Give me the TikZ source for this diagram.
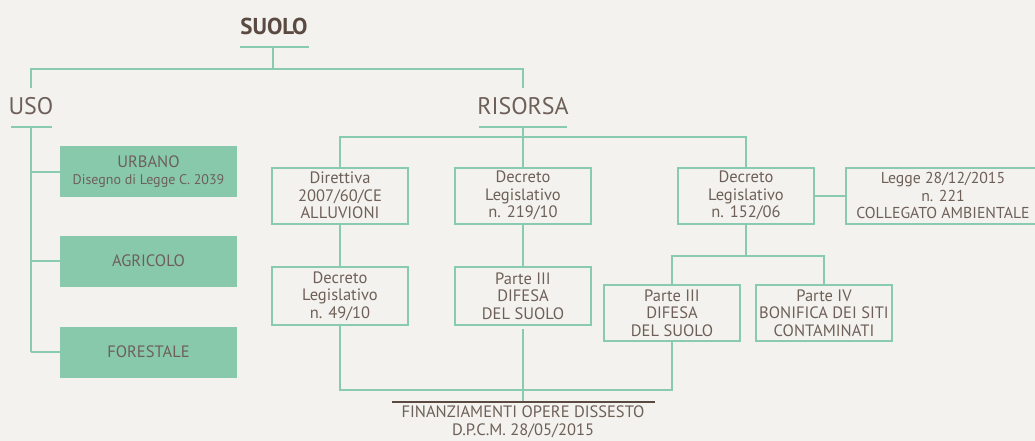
\documentclass[tikz,border=0pt]{standalone}
\usepackage{fontspec}
\setmainfont{PT Sans}
\definecolor{bg}{HTML}{F3F2EE}
\definecolor{ln}{HTML}{88CBB0}
\definecolor{gf}{HTML}{88C9AC}
\definecolor{tx}{HTML}{6E6058}
\definecolor{dk}{HTML}{5A4A42}
\tikzset{
  conn/.style={draw=ln, line width=2pt},
  tbox/.style={draw=ln, line width=2pt, fill=bg, minimum width=136pt, minimum height=56pt,
    align=center, text=tx, inner sep=0pt, font=\fontsize{16.5}{17.6}\selectfont},
  gbox/.style={fill=gf, draw=none, minimum width=177pt, minimum height=51pt,
    align=center, text=tx, inner sep=0pt, font=\fontsize{16.5}{17.6}\selectfont},
  head/.style={text=tx, inner sep=0pt, font=\fontsize{24}{28}\selectfont},
  foot/.style={text=tx, inner sep=0pt, align=center, font=\fontsize{16.5}{17.6}\selectfont}
}
\begin{document}
\begin{tikzpicture}[x=1pt,y=-1pt]
\useasboundingbox (0,0) rectangle (1035,441);
\fill[bg] (0,0) rectangle (1035,441);
\clip (0,0) rectangle (1035,441);

% headings
\node[head, text=dk, font=\fontsize{23}{28}\selectfont\bfseries, anchor=base] (suolo) at (274,35) {SUOLO};
\node[head, anchor=base] (uso) at (31,115) {USO};
\node[head, anchor=base] (risorsa) at (523,115) {RISORSA};

\coordinate (suL) at (240,47); \coordinate (suR) at (309,47); \coordinate (suM) at (273,47);
\coordinate (usL) at (11,127); \coordinate (usR) at (52,127); \coordinate (usM) at (31,127);
\coordinate (riL) at (479,127); \coordinate (riR) at (567,127); \coordinate (riM) at (523,127);

% USO boxes
\node[gbox] (urbano) at (148.5,171.5) {URBANO\\[-0.5pt]{\fontsize{14}{15}\selectfont Disegno di Legge C. 2039}};
\node[gbox] (agricolo) at (148.5,261) {AGRICOLO};
\node[gbox] (forestale) at (148.5,352) {FORESTALE};

% RISORSA boxes
\node[tbox] (b1) at (340,195.5) {Direttiva\\2007/60/CE\\ALLUVIONI};
\node[tbox] (b2) at (523,195.5) {Decreto\\Legislativo\\n. 219/10};
\node[tbox] (b3) at (746,195.5) {Decreto\\Legislativo\\n. 152/06};
\node[tbox, minimum width=194pt, font=\fontsize{15.8}{17.6}\selectfont] (b4) at (943,195.5) {Legge 28/12/2015\\n. 221\\COLLEGATO AMBIENTALE};
\node[tbox, minimum height=58pt] (b5) at (340,296) {Decreto\\Legislativo\\n. 49/10};
\node[tbox, minimum height=58pt] (b6) at (523,296) {Parte III\\DIFESA\\DEL SUOLO};
\node[tbox] (b7) at (672,313) {Parte III\\DIFESA\\DEL SUOLO};
\node[tbox] (b8) at (824,313) {Parte IV\\BONIFICA DEI SITI\\CONTAMINATI};

% footer
\coordinate (ftL) at (392,402); \coordinate (ftR) at (655,402); \coordinate (ftM) at (523,402);
\node[foot, anchor=north] (fin) at (523,406) {FINANZIAMENTI OPERE DISSESTO\\D.P.C.M. 28/05/2015};

% connectors
\draw[conn] (suL) -- (suR);
\draw[conn] (suM) -- (273,69);
\draw[conn] (31,88) -- (31,69) -- (523,69) -- (523,88);
\draw[conn] (usL) -- (usR);
\draw[conn] (usM) -- (31,352);
\draw[conn] (31,171.5) -- (urbano.west);
\draw[conn] (31,261) -- (agricolo.west);
\draw[conn] (31,352) -- (forestale.west);
\draw[conn] (riL) -- (riR);
\draw[conn] (riM) -- (b2.north);
\draw[conn] (b1.north) -- (340,137) -- (746,137) -- (b3.north);
\draw[conn] (b3.east) -- (b4.west);
\draw[conn] (b1.south) -- (b5.north);
\draw[conn] (b2.south) -- (b6.north);
\draw[conn] (b3.south) -- (746,256);
\draw[conn] (b7.north) -- (672,256) -- (824,256) -- (b8.north);
\draw[conn] (b5.south) -- (340,390) -- (672,390) -- (b7.south);
\draw[conn] (523,329) -- (ftM);
\draw[draw=dk, line width=2pt] (ftL) -- (ftR);
\end{tikzpicture}
\end{document}
